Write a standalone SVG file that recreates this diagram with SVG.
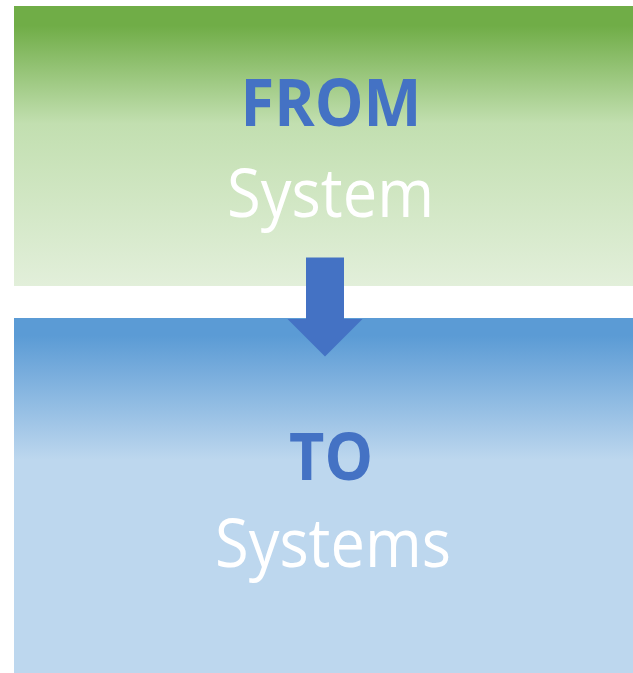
<svg xmlns="http://www.w3.org/2000/svg" width="633" height="673" viewBox="0 0 633 673">
<defs>
<linearGradient id="gGreen" x1="0" y1="0" x2="0" y2="1">
<stop offset="0" stop-color="#70AD47"/>
<stop offset="0.07" stop-color="#70AD47"/>
<stop offset="0.42" stop-color="#C2DFB0"/>
<stop offset="1" stop-color="#E2EFDA"/>
</linearGradient>
<linearGradient id="gBlue" x1="0" y1="0" x2="0" y2="1">
<stop offset="0" stop-color="#5B9BD5"/>
<stop offset="0.05" stop-color="#5B9BD5"/>
<stop offset="0.40" stop-color="#BDD7EE"/>
<stop offset="1" stop-color="#BDD7EE"/>
</linearGradient>
<style>
.head{font-family:"Open Sans","Liberation Sans",sans-serif;font-weight:bold;font-size:67px;fill:#4472C4}
.sub{font-family:"Open Sans","Liberation Sans",sans-serif;font-size:67px;fill:#FFFFFF}
</style>
</defs>
<rect width="633" height="673" fill="#FFFFFF"/>
<g id="from">
<rect x="14" y="6" width="619" height="280" fill="url(#gGreen)"/>
<text class="head" x="331" y="126" text-anchor="middle" textLength="181" lengthAdjust="spacingAndGlyphs">FROM</text>
<text class="sub" x="330.5" y="216.5" text-anchor="middle" textLength="207" lengthAdjust="spacingAndGlyphs">System</text>
</g>
<g id="to">
<rect x="14" y="318" width="619" height="355" fill="url(#gBlue)"/>
<text class="head" x="331" y="479.5" text-anchor="middle" textLength="84" lengthAdjust="spacingAndGlyphs">TO</text>
<text class="sub" x="333" y="566.5" text-anchor="middle" textLength="236" lengthAdjust="spacingAndGlyphs">Systems</text>
</g>
<g id="connectors">
<polygon points="306,257.5 344,257.5 344,319 362.5,319 325,356.5 287.5,319 306,319" fill="#4472C4"/>
</g>
</svg>
